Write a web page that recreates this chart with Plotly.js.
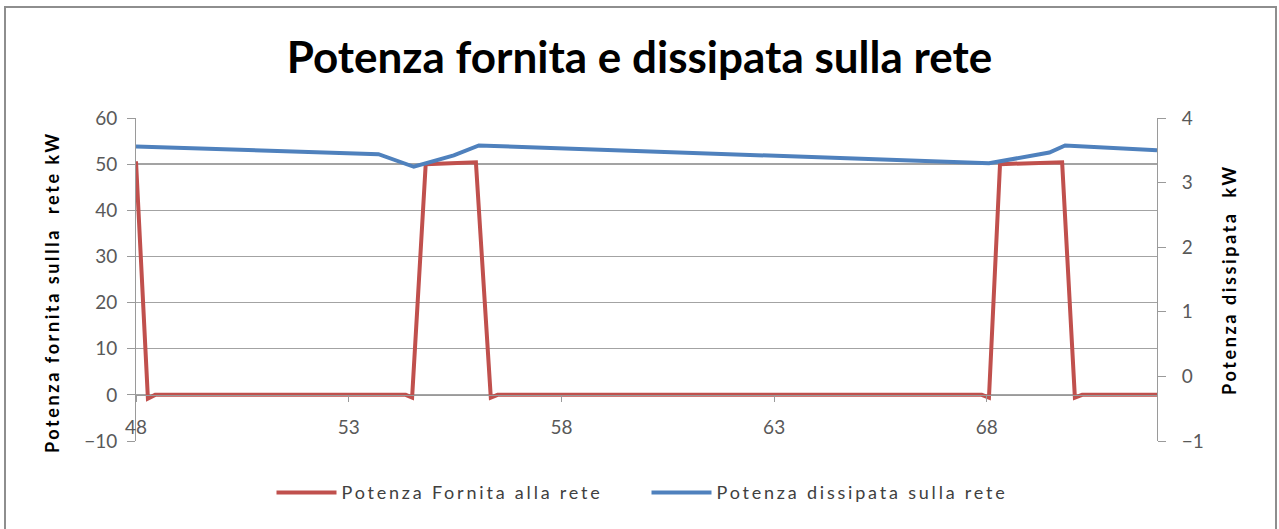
<!DOCTYPE html>
<html>
<head>
<meta charset="utf-8">
<script src="https://cdn.plot.ly/plotly-3.0.1.min.js"></script>
<style>
  html, body { margin: 0; padding: 0; background: #ffffff; }
  #wrap { position: relative; width: 1279px; height: 529px; overflow: hidden; }
  #chart { width: 1279px; height: 529px; }
  #frame { position: absolute; left: 4px; top: 6px; width: 1273px; height: 540px;
           border: 2px solid #8e8e8e; box-sizing: border-box; pointer-events: none; }
  .legendtext { letter-spacing: 2.8px; }
  .y2title, .annotation-text { letter-spacing: 2.6px; }
</style>
</head>
<body>
<div id="wrap">
  <div id="chart"></div>
  <div id="frame"></div>
</div>
<script>
// ---- data ----
const redName = "Potenza Fornita alla rete";
const blueName = "Potenza dissipata sulla rete";

const redX = [48, 48.28, 48.45, 54.34, 54.49, 54.81, 55.99, 56.34, 56.5, 67.88, 68.05, 68.31, 69.77, 70.07, 70.24, 72];
const redY = [50.6, -0.8, 0, 0, -0.6, 50, 50.4, -0.6, 0, 0, -0.6, 50, 50.4, -0.6, 0, 0];

const blueX = [48, 53.7, 54.53, 55.47, 56.06, 68.05, 69.47, 69.84, 72];
const blueY = [3.56, 3.44, 3.245, 3.42, 3.575, 3.30, 3.465, 3.575, 3.50];

const xTickVals = [48, 53, 58, 63, 68];
const xTickText = ["48", "53", "58", "63", "68"];

const chartTitle = "Potenza fornita e dissipata sulla rete";
const leftTitle = "Potenza fornita sullla  rete kW";
const rightTitle = "Potenza dissipata  kW";

const FONT = "Lato, 'Open Sans', sans-serif";

const traces = [
  { x: redX, y: redY, name: redName, type: "scatter", mode: "lines",
    line: { color: "#C0504D", width: 4 }, yaxis: "y" },
  { x: blueX, y: blueY, name: blueName, type: "scatter", mode: "lines",
    line: { color: "#4F81BD", width: 4 }, yaxis: "y2" }
];

const layout = {
  width: 1279, height: 529,
  margin: { l: 136, r: 122, t: 118, b: 88 },
  paper_bgcolor: "#ffffff", plot_bgcolor: "#ffffff",
  font: { family: FONT, color: "#595959", size: 19 },
  title: { text: chartTitle, x: 0.5, xanchor: "center", y: 1 - 58/529, yanchor: "middle",
           yref: "container",
           font: { family: FONT, size: 44, color: "#000000", weight: "bold" } },
  showlegend: true,
  legend: { orientation: "h", x: 0.5, xanchor: "center", y: -0.16, yanchor: "middle",
            font: { family: FONT, size: 18, color: "#404040" }, itemwidth: 60,
            entrywidth: 300, entrywidthmode: "pixels",
            traceorder: "normal", bgcolor: "rgba(0,0,0,0)" },
  annotations: [{
    text: leftTitle, xref: "paper", yref: "paper",
    x: (52 - 136) / 1021, y: (441 - 292) / 323, xanchor: "center", yanchor: "middle",
    textangle: -90, showarrow: false,
    font: { family: FONT, size: 18, color: "#000000", weight: "bold" }
  }],
  xaxis: {
    range: [48, 72], tickmode: "array", tickvals: xTickVals, ticktext: xTickText,
    showgrid: false, zeroline: false, showline: true, linecolor: "#9a9a9a", linewidth: 1,
    ticks: "outside", ticklen: 6, tickcolor: "#9a9a9a",
    anchor: "free", position: 1/7, ticklabelstandoff: 9,
    tickfont: { family: FONT, size: 19, color: "#595959" }
  },
  yaxis: {
    range: [-10, 60], dtick: 10, tick0: 0,
    showgrid: true, gridcolor: "#a3a3a3", gridwidth: 1.3,
    zeroline: false, showline: true, linecolor: "#9a9a9a",
    ticks: "outside", ticklen: 8, tickcolor: "#9a9a9a", ticklabelstandoff: 6,
    tickfont: { family: FONT, size: 19, color: "#595959" }
  },
  yaxis2: {
    range: [-1, 4], dtick: 1, tick0: 0, overlaying: "y", side: "right",
    showgrid: false, zeroline: false, showline: true, linecolor: "#9a9a9a",
    ticks: "outside", ticklen: 8, tickcolor: "#9a9a9a", ticklabelstandoff: 12,
    tickfont: { family: FONT, size: 19, color: "#595959" },
    title: { text: rightTitle, standoff: 20,
             font: { family: FONT, size: 18, color: "#000000", weight: "bold" } }
  }
};

Plotly.newPlot("chart", traces, layout, { displayModeBar: false, staticPlot: true });
</script>
</body>
</html>
